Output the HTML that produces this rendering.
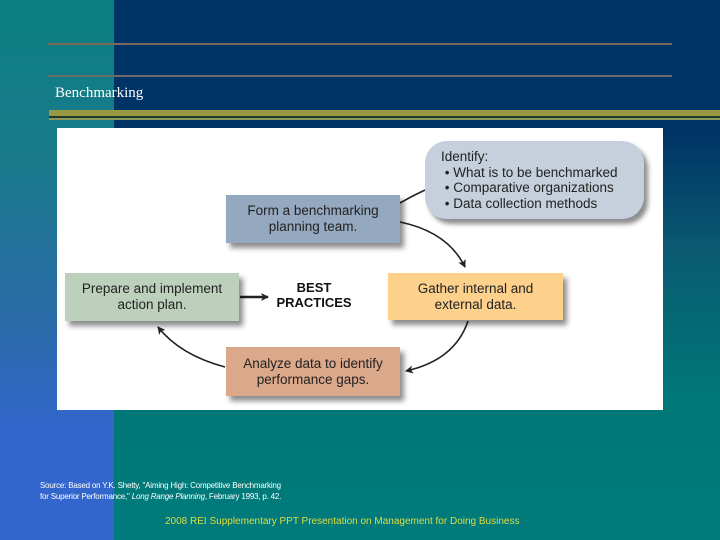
<!DOCTYPE html>
<html><head><style>
body{margin:0}
#s{position:relative;width:720px;height:540px;overflow:hidden;background:linear-gradient(180deg,#003366 0px,#003366 128px,#0a5a72 250px,#007878 400px,#007a7a 540px);font-family:"Liberation Sans",sans-serif}
#l{position:absolute;left:0;top:0;width:114px;height:540px;background:linear-gradient(180deg,#0a8080 0%,#1a7a8c 30%,#2a6aa8 60%,#3366cc 80%,#3366cc 100%)}
.a{position:absolute}
.b{position:absolute;box-shadow:4px 5px 5px rgba(0,0,0,.45);text-align:center;font-size:13.5px;line-height:16px;color:#222;display:flex;align-items:center;justify-content:center}
</style></head><body><div id="s">
<div id="l"></div>
<div class="a" style="left:48px;top:43px;width:624px;height:2px;background:#7a6a5e"></div>
<div class="a" style="left:48px;top:75px;width:624px;height:2px;background:#6b6b6b"></div>
<div class="a" style="left:55px;top:85px;color:#fff;font:15px 'Liberation Serif',serif">Benchmarking</div>
<div class="a" style="left:49px;top:110px;width:671px;height:6px;background:#999944"></div>
<div class="a" style="left:49px;top:116px;width:671px;height:2px;background:#223a2a"></div>
<div class="a" style="left:49px;top:118px;width:671px;height:2px;background:#8a9a5a"></div>
<div class="a" style="left:57px;top:128px;width:606px;height:282px;background:#fff"></div>
<svg class="a" style="left:0;top:0" width="720" height="540">
<defs><marker id="m" markerWidth="8" markerHeight="8" refX="7" refY="4" orient="auto" markerUnits="userSpaceOnUse"><path d="M0,0 L8,4 L0,8 L2,4z" fill="#222"/></marker></defs>
<g stroke="#222" stroke-width="1.6" fill="none">
<path d="M425,190 Q412,196 400,203"/>
<path d="M400,222 Q448,232 465,267" marker-end="url(#m)"/>
<path d="M468,321 Q455,360 406,371" marker-end="url(#m)"/>
<path d="M225,367 Q180,355 158,327" marker-end="url(#m)"/>
<path d="M240,297 L268,297" stroke-width="2.5" marker-end="url(#m)"/>
</g></svg>
<div class="b" style="left:425px;top:141px;width:219px;height:78px;background:#c5d0dc;border-radius:22px;justify-content:flex-start;text-align:left;font-size:13.5px"><div style="padding-left:16px;line-height:15.5px">Identify:<br>&nbsp;• What is to be benchmarked<br>&nbsp;• Comparative organizations<br>&nbsp;• Data collection methods</div></div>
<div class="b" style="left:226px;top:195px;width:174px;height:48px;background:#94a8bf">Form a benchmarking<br>planning team.</div>
<div class="b" style="left:65px;top:273px;width:174px;height:48px;background:#bcd0bc">Prepare and implement<br>action plan.</div>
<div class="b" style="left:388px;top:273px;width:175px;height:47px;background:#fdd08c">Gather internal and<br>external data.</div>
<div class="b" style="left:226px;top:347px;width:174px;height:49px;background:#dca88a">Analyze data to identify<br>performance gaps.</div>
<div class="a" style="left:268px;top:280px;width:92px;text-align:center;font-weight:bold;font-size:13px;line-height:15px;color:#111">BEST<br>PRACTICES</div>
<div class="a" style="left:40px;top:480px;color:#fff;font-size:8px;line-height:11px;letter-spacing:-.2px">Source: Based on Y.K. Shetty, "Aiming High: Competitive Benchmarking<br>for Superior Performance," <i>Long Range Planning</i>, February 1993, p. 42.</div>
<div class="a" style="left:165px;top:516px;color:#dddd44;font-size:10px">2008 REI Supplementary PPT Presentation on Management for Doing Business</div>
</div></body></html>
